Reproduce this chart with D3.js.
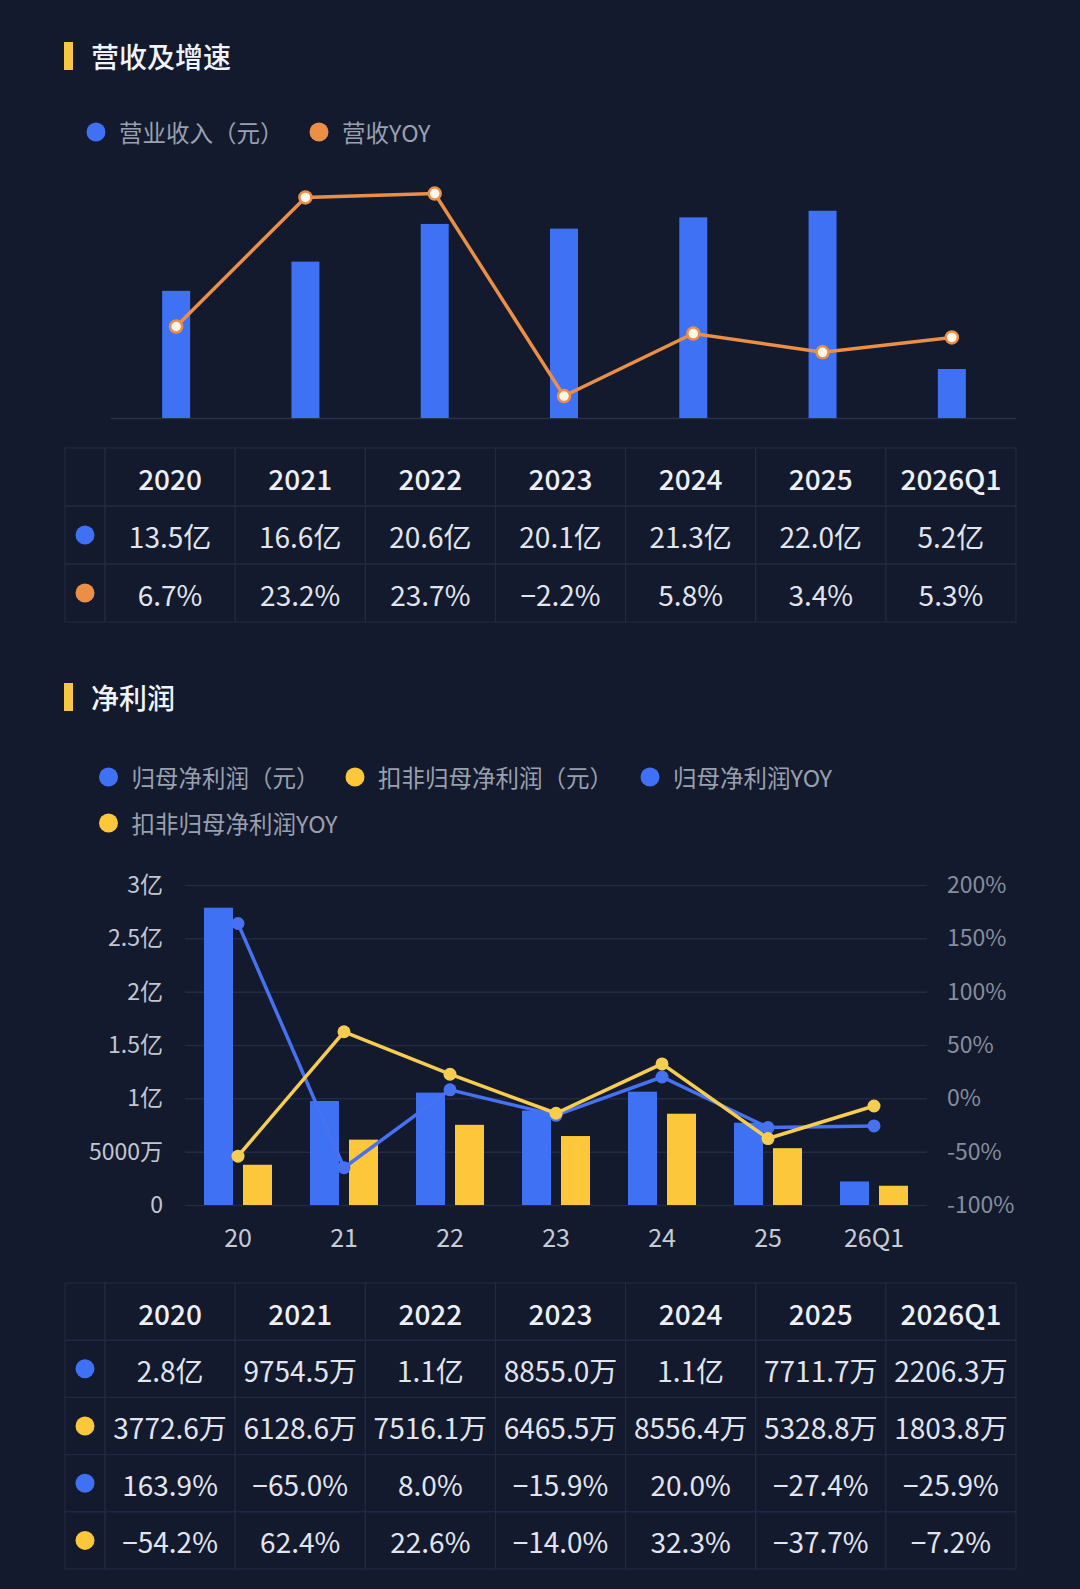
<!DOCTYPE html>
<html>
<head>
<meta charset="utf-8">
<script src="https://cdn.jsdelivr.net/npm/d3@7"></script>
<style>
  html, body { margin: 0; padding: 0; background: #131a2d; }
  svg { display: block; font-family: "Noto Sans CJK SC", "Noto Sans", sans-serif; }
</style>
</head>
<body>
<div id="viz"></div>
<script>
// ---- data ----
const years = ["2020", "2021", "2022", "2023", "2024", "2025", "2026Q1"];
const shortYears = ["20", "21", "22", "23", "24", "25", "26Q1"];

// 营收 (亿元) and YOY (%)
const revenue = [13.5, 16.6, 20.6, 20.1, 21.3, 22.0, 5.2];
const revenueYoy = [6.7, 23.2, 23.7, -2.2, 5.8, 3.4, 5.3];

// 净利润 (万元) and YOY (%)
const netProfit = [27870, 9754.5, 10535, 8855.0, 10626, 7711.7, 2206.3];
const deductProfit = [3772.6, 6128.6, 7516.1, 6465.5, 8556.4, 5328.8, 1803.8];
const netYoy = [163.9, -65.0, 8.0, -15.9, 20.0, -27.4, -25.9];
const deductYoy = [-54.2, 62.4, 22.6, -14.0, 32.3, -37.7, -7.2];

const leftTicks = [0, 5000, 10000, 15000, 20000, 25000, 30000];
const rightTicks = [-100, -50, 0, 50, 100, 150, 200];

const BLUE = "#3f71f5", ORANGE = "#ec8f46", YELLOW = "#fcc73a", YLINE = "#f6cd50";
const BG = "#131a2d", GRID = "#222a42", CELL = "#212b46";

const fmtYi = v => v.toFixed(1) + "亿";
const fmtWan = v => v >= 10000 ? (v / 10000).toFixed(1) + "亿" : v.toFixed(1) + "万";
const fmtPct = v => (v < 0 ? "\u2212" + Math.abs(v).toFixed(1) : v.toFixed(1)) + "%";
const fmtAxisWan = v => v === 0 ? "0" : v >= 10000 ? (v / 10000) + "亿" : v + "万";

const W = 1080, H = 1589;
const svg = d3.select("#viz").append("svg")
  .attr("width", W).attr("height", H).attr("viewBox", [0, 0, W, H]);
svg.append("rect").attr("width", W).attr("height", H).attr("fill", BG);

function sectionTitle(y, label) {
  svg.append("rect").attr("x", 64).attr("y", y - 14).attr("width", 9).attr("height", 28)
    .attr("fill", "#f7c744");
  svg.append("text").attr("x", 91).attr("y", y).attr("dominant-baseline", "central")
    .attr("font-size", 28).attr("font-weight", 500).attr("fill", "#f1f3f8").text(label);
}

function legendItem(x, y, color, label) {
  svg.append("circle").attr("cx", x).attr("cy", y).attr("r", 9.5).attr("fill", color);
  svg.append("text").attr("x", x + 23).attr("y", y).attr("dominant-baseline", "central")
    .attr("font-size", 23.5).attr("fill", "#9aa0af").text(label);
}

function drawTable(top, rowH, rows) {
  const left = 65, firstW = 40, colW = (1016 - 105) / years.length;
  const g = svg.append("g");
  const allRows = [{ dot: null, cells: years, head: true }].concat(rows);
  allRows.forEach((r, ri) => {
    const y = top + ri * rowH;
    g.append("rect").attr("x", left).attr("y", y).attr("width", firstW).attr("height", rowH)
      .attr("fill", "none").attr("stroke", CELL);
    if (r.dot) {
      g.append("circle").attr("cx", 85).attr("cy", y + rowH / 2).attr("r", 9.5).attr("fill", r.dot);
    }
    r.cells.forEach((c, ci) => {
      const x = 105 + ci * colW;
      g.append("rect").attr("x", x).attr("y", y).attr("width", colW).attr("height", rowH)
        .attr("fill", "none").attr("stroke", CELL);
      g.append("text").attr("x", x + colW / 2).attr("y", y + rowH / 2 + 1)
        .attr("text-anchor", "middle").attr("dominant-baseline", "central")
        .attr("font-size", 28).attr("font-weight", r.head ? 500 : 400)
        .attr("fill", r.head ? "#eef0f5" : "#e2e5ee").text(c);
    });
  });
}

// ===== section 1: 营收及增速 =====
sectionTitle(56, "营收及增速");
legendItem(96, 132, BLUE, "营业收入（元）");
legendItem(319, 132, ORANGE, "营收YOY");

const x1 = d3.scaleBand().domain(years).range([111.5, 1016.5]);
const yRev = d3.scaleLinear().domain([0, 25]).range([418, 182.5]);
const yRevYoy = d3.scaleLinear().domain([-5, 25]).range([418, 183.4]);

svg.append("line").attr("x1", 111).attr("x2", 1016).attr("y1", 418.5).attr("y2", 418.5)
  .attr("stroke", "#29314b").attr("stroke-width", 1.5);

svg.append("g").attr("fill", BLUE)
  .selectAll("rect").data(revenue).join("rect")
  .attr("x", (d, i) => x1(years[i]) + x1.bandwidth() / 2 - 14)
  .attr("width", 28)
  .attr("y", d => yRev(d))
  .attr("height", d => yRev(0) - yRev(d));

const line1 = d3.line()
  .x((d, i) => x1(years[i]) + x1.bandwidth() / 2)
  .y(d => yRevYoy(d));
svg.append("path").datum(revenueYoy).attr("d", line1)
  .attr("fill", "none").attr("stroke", ORANGE).attr("stroke-width", 3.5);
svg.append("g").selectAll("circle").data(revenueYoy).join("circle")
  .attr("cx", (d, i) => x1(years[i]) + x1.bandwidth() / 2)
  .attr("cy", d => yRevYoy(d))
  .attr("r", 6).attr("fill", "#fff6ea").attr("stroke", ORANGE).attr("stroke-width", 2.5);

drawTable(448, 58, [
  { dot: BLUE, cells: revenue.map(fmtYi) },
  { dot: ORANGE, cells: revenueYoy.map(fmtPct) }
]);

// ===== section 2: 净利润 =====
sectionTitle(697, "净利润");
legendItem(108.5, 777, BLUE, "归母净利润（元）");
legendItem(355, 777, YELLOW, "扣非归母净利润（元）");
legendItem(650, 777, BLUE, "归母净利润YOY");
legendItem(108.5, 823, YELLOW, "扣非归母净利润YOY");

const x2 = d3.scaleBand().domain(shortYears).range([185, 927]);
const yAmt = d3.scaleLinear().domain([0, 30000]).range([1205, 885]);
const yPct = d3.scaleLinear().domain([-100, 200]).range([1205, 885]);
const cx2 = i => x2(shortYears[i]) + x2.bandwidth() / 2;

const leftAxis = svg.append("g").attr("transform", "translate(185,0)")
  .call(d3.axisLeft(yAmt).tickValues(leftTicks).tickFormat(fmtAxisWan)
    .tickSize(-742).tickPadding(22));
leftAxis.select(".domain").remove();
leftAxis.selectAll(".tick line").attr("stroke", GRID).attr("stroke-width", 1.5);
leftAxis.selectAll(".tick text").attr("font-size", 23).attr("fill", "#c3c7d2")
  .attr("font-family", "Noto Sans CJK SC, sans-serif");

const rightAxis = svg.append("g").attr("transform", "translate(927,0)")
  .call(d3.axisRight(yPct).tickValues(rightTicks).tickFormat(d => d + "%")
    .tickSize(0).tickPadding(20));
rightAxis.select(".domain").remove();
rightAxis.selectAll(".tick text").attr("font-size", 23).attr("fill", "#878d9d")
  .attr("font-family", "Noto Sans CJK SC, sans-serif");

const bottomAxis = svg.append("g").attr("transform", "translate(0,1205)")
  .call(d3.axisBottom(x2).tickSize(0).tickPadding(24));
bottomAxis.select(".domain").remove();
bottomAxis.selectAll(".tick text").attr("font-size", 25).attr("fill", "#c7cbd6")
  .attr("font-family", "Noto Sans CJK SC, sans-serif");

svg.append("g").attr("fill", BLUE)
  .selectAll("rect").data(netProfit).join("rect")
  .attr("x", (d, i) => cx2(i) - 34).attr("width", 29)
  .attr("y", d => yAmt(d)).attr("height", d => yAmt(0) - yAmt(d));

svg.append("g").attr("fill", YELLOW)
  .selectAll("rect").data(deductProfit).join("rect")
  .attr("x", (d, i) => cx2(i) + 5).attr("width", 29)
  .attr("y", d => yAmt(d)).attr("height", d => yAmt(0) - yAmt(d));

const line2 = d3.line().x((d, i) => cx2(i)).y(d => yPct(d));
[[netYoy, "#4672f2"], [deductYoy, YLINE]].forEach(([data, color]) => {
  svg.append("path").datum(data).attr("d", line2)
    .attr("fill", "none").attr("stroke", color).attr("stroke-width", 3.5);
  svg.append("g").selectAll("circle").data(data).join("circle")
    .attr("cx", (d, i) => cx2(i)).attr("cy", d => yPct(d))
    .attr("r", 6.5).attr("fill", color);
});

drawTable(1283, 57.2, [
  { dot: BLUE, cells: netProfit.map(fmtWan) },
  { dot: YELLOW, cells: deductProfit.map(fmtWan) },
  { dot: BLUE, cells: netYoy.map(fmtPct) },
  { dot: YELLOW, cells: deductYoy.map(fmtPct) }
]);
</script>
</body>
</html>
